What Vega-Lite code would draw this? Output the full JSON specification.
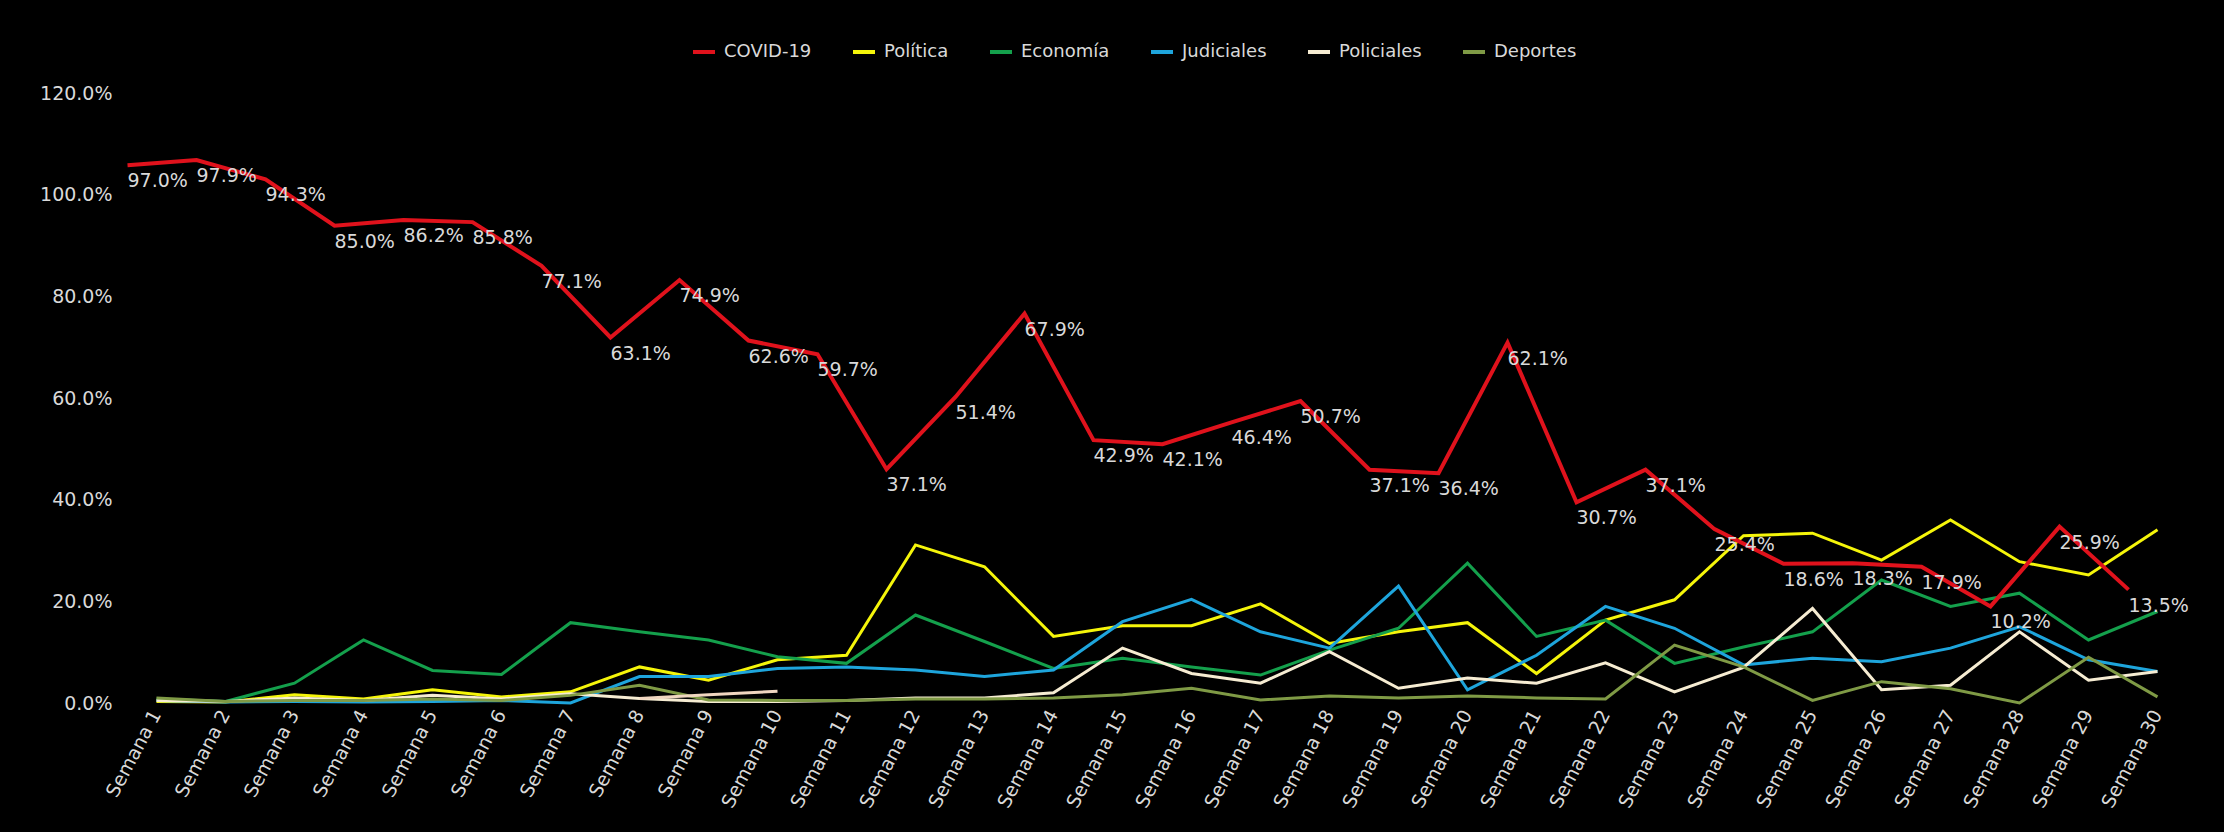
{
  "$schema": "https://vega.github.io/schema/vega-lite/v6.json",
  "width": 2070,
  "height": 610,
  "autosize": {"type": "none"},
  "padding": {"left": 122, "top": 93, "right": 32, "bottom": 129},
  "background": "#000000",
  "config": {"view": {"stroke": null}, "font": "DejaVu Sans"},
  "datasets": {
    "oth": [
      {"w": "Semana 1", "Política": 0.003, "Economía": 0.008, "Judiciales": 0.005, "Policiales": 0.005, "Deportes": 0.010},
      {"w": "Semana 2", "Política": 0.002, "Economía": 0.003, "Judiciales": 0.002, "Policiales": 0.003, "Deportes": 0.003},
      {"w": "Semana 3", "Política": 0.016, "Economía": 0.039, "Judiciales": 0.003, "Policiales": 0.010, "Deportes": 0.005},
      {"w": "Semana 4", "Política": 0.008, "Economía": 0.124, "Judiciales": 0.002, "Policiales": 0.005, "Deportes": 0.005},
      {"w": "Semana 5", "Política": 0.026, "Economía": 0.064, "Judiciales": 0.003, "Policiales": 0.015, "Deportes": 0.008},
      {"w": "Semana 6", "Política": 0.012, "Economía": 0.056, "Judiciales": 0.005, "Policiales": 0.008, "Deportes": 0.005},
      {"w": "Semana 7", "Política": 0.022, "Economía": 0.158, "Judiciales": 0.000, "Policiales": 0.018, "Deportes": 0.015},
      {"w": "Semana 8", "Política": 0.071, "Economía": 0.140, "Judiciales": 0.052, "Policiales": 0.009, "Deportes": 0.035},
      {"w": "Semana 9", "Política": 0.045, "Economía": 0.124, "Judiciales": 0.052, "Policiales": 0.003, "Deportes": 0.006},
      {"w": "Semana 10", "Política": 0.085, "Economía": 0.091, "Judiciales": 0.068, "Policiales": 0.003, "Deportes": 0.005},
      {"w": "Semana 11", "Política": 0.094, "Economía": 0.078, "Judiciales": 0.071, "Policiales": 0.005, "Deportes": 0.005},
      {"w": "Semana 12", "Política": 0.311, "Economía": 0.173, "Judiciales": 0.065, "Policiales": 0.010, "Deportes": 0.008},
      {"w": "Semana 13", "Política": 0.268, "Economía": 0.121, "Judiciales": 0.052, "Policiales": 0.010, "Deportes": 0.008},
      {"w": "Semana 14", "Política": 0.131, "Economía": 0.068, "Judiciales": 0.065, "Policiales": 0.020, "Deportes": 0.010},
      {"w": "Semana 15", "Política": 0.152, "Economía": 0.088, "Judiciales": 0.160, "Policiales": 0.108, "Deportes": 0.016},
      {"w": "Semana 16", "Política": 0.152, "Economía": 0.071, "Judiciales": 0.204, "Policiales": 0.058, "Deportes": 0.029},
      {"w": "Semana 17", "Política": 0.195, "Economía": 0.055, "Judiciales": 0.140, "Policiales": 0.039, "Deportes": 0.006},
      {"w": "Semana 18", "Política": 0.117, "Economía": 0.104, "Judiciales": 0.108, "Policiales": 0.101, "Deportes": 0.014},
      {"w": "Semana 19", "Política": 0.140, "Economía": 0.147, "Judiciales": 0.230, "Policiales": 0.029, "Deportes": 0.010},
      {"w": "Semana 20", "Política": 0.158, "Economía": 0.275, "Judiciales": 0.026, "Policiales": 0.049, "Deportes": 0.014},
      {"w": "Semana 21", "Política": 0.058, "Economía": 0.131, "Judiciales": 0.094, "Policiales": 0.039, "Deportes": 0.010},
      {"w": "Semana 22", "Política": 0.163, "Economía": 0.163, "Judiciales": 0.190, "Policiales": 0.079, "Deportes": 0.008},
      {"w": "Semana 23", "Política": 0.203, "Economía": 0.078, "Judiciales": 0.147, "Policiales": 0.022, "Deportes": 0.114},
      {"w": "Semana 24", "Política": 0.329, "Economía": 0.110, "Judiciales": 0.075, "Policiales": 0.070, "Deportes": 0.071},
      {"w": "Semana 25", "Política": 0.334, "Economía": 0.140, "Judiciales": 0.088, "Policiales": 0.186, "Deportes": 0.005},
      {"w": "Semana 26", "Política": 0.281, "Economía": 0.242, "Judiciales": 0.081, "Policiales": 0.026, "Deportes": 0.042},
      {"w": "Semana 27", "Política": 0.360, "Economía": 0.190, "Judiciales": 0.108, "Policiales": 0.035, "Deportes": 0.028},
      {"w": "Semana 28", "Política": 0.278, "Economía": 0.216, "Judiciales": 0.150, "Policiales": 0.140, "Deportes": 0.000},
      {"w": "Semana 29", "Política": 0.252, "Economía": 0.124, "Judiciales": 0.085, "Policiales": 0.045, "Deportes": 0.090},
      {"w": "Semana 30", "Política": 0.341, "Economía": 0.180, "Judiciales": 0.062, "Policiales": 0.062, "Deportes": 0.012}
    ],
    "ext": [
      {"w": "Semana 8", "v": 0.009},
      {"w": "Semana 9", "v": 0.016},
      {"w": "Semana 10", "v": 0.023}
    ],
    "cov": [
      {"w": "Semana 1", "s": "COVID-19", "v": 1.058, "lab": "97.0%"},
      {"w": "Semana 2", "s": "COVID-19", "v": 1.068, "lab": "97.9%"},
      {"w": "Semana 3", "s": "COVID-19", "v": 1.030, "lab": "94.3%"},
      {"w": "Semana 4", "s": "COVID-19", "v": 0.939, "lab": "85.0%"},
      {"w": "Semana 5", "s": "COVID-19", "v": 0.950, "lab": "86.2%"},
      {"w": "Semana 6", "s": "COVID-19", "v": 0.946, "lab": "85.8%"},
      {"w": "Semana 7", "s": "COVID-19", "v": 0.860, "lab": "77.1%"},
      {"w": "Semana 8", "s": "COVID-19", "v": 0.719, "lab": "63.1%"},
      {"w": "Semana 9", "s": "COVID-19", "v": 0.832, "lab": "74.9%"},
      {"w": "Semana 10", "s": "COVID-19", "v": 0.713, "lab": "62.6%"},
      {"w": "Semana 11", "s": "COVID-19", "v": 0.686, "lab": "59.7%"},
      {"w": "Semana 12", "s": "COVID-19", "v": 0.460, "lab": "37.1%"},
      {"w": "Semana 13", "s": "COVID-19", "v": 0.602, "lab": "51.4%"},
      {"w": "Semana 14", "s": "COVID-19", "v": 0.766, "lab": "67.9%"},
      {"w": "Semana 15", "s": "COVID-19", "v": 0.517, "lab": "42.9%"},
      {"w": "Semana 16", "s": "COVID-19", "v": 0.509, "lab": "42.1%"},
      {"w": "Semana 17", "s": "COVID-19", "v": 0.552, "lab": "46.4%"},
      {"w": "Semana 18", "s": "COVID-19", "v": 0.594, "lab": "50.7%"},
      {"w": "Semana 19", "s": "COVID-19", "v": 0.459, "lab": "37.1%"},
      {"w": "Semana 20", "s": "COVID-19", "v": 0.452, "lab": "36.4%"},
      {"w": "Semana 21", "s": "COVID-19", "v": 0.709, "lab": "62.1%"},
      {"w": "Semana 22", "s": "COVID-19", "v": 0.395, "lab": "30.7%"},
      {"w": "Semana 23", "s": "COVID-19", "v": 0.459, "lab": "37.1%"},
      {"w": "Semana 24", "s": "COVID-19", "v": 0.342, "lab": "25.4%"},
      {"w": "Semana 25", "s": "COVID-19", "v": 0.274, "lab": "18.6%"},
      {"w": "Semana 26", "s": "COVID-19", "v": 0.275, "lab": "18.3%"},
      {"w": "Semana 27", "s": "COVID-19", "v": 0.268, "lab": "17.9%"},
      {"w": "Semana 28", "s": "COVID-19", "v": 0.190, "lab": "10.2%"},
      {"w": "Semana 29", "s": "COVID-19", "v": 0.347, "lab": "25.9%"},
      {"w": "Semana 30", "s": "COVID-19", "v": 0.223, "lab": "13.5%"}
    ]
  },
  "layer": [
    {
      "data": {"name": "oth"},
      "transform": [{"fold": ["Política", "Economía", "Judiciales", "Policiales", "Deportes"], "as": ["s", "v"]}],
      "mark": {"type": "line", "strokeWidth": 3},
      "encoding": {
        "x": {
          "field": "w", "type": "ordinal", "title": null,
          "scale": {"type": "band", "paddingInner": 0, "paddingOuter": 0,
            "domain": ["Semana 1","Semana 2","Semana 3","Semana 4","Semana 5","Semana 6","Semana 7","Semana 8","Semana 9","Semana 10","Semana 11","Semana 12","Semana 13","Semana 14","Semana 15","Semana 16","Semana 17","Semana 18","Semana 19","Semana 20","Semana 21","Semana 22","Semana 23","Semana 24","Semana 25","Semana 26","Semana 27","Semana 28","Semana 29","Semana 30"]},
          "axis": {"labelAngle": -62, "labelFontSize": 19, "labelColor": "#d9d9d9", "ticks": false, "domain": false, "grid": false, "labelPadding": 8}
        },
        "y": {
          "field": "v", "type": "quantitative", "title": null,
          "scale": {"domain": [0, 1.2], "nice": false},
          "axis": {"values": [0, 0.2, 0.4, 0.6, 0.8, 1.0, 1.2], "format": ".1%", "labelFontSize": 19, "labelColor": "#d9d9d9", "ticks": false, "domain": false, "grid": false, "labelPadding": 10}
        },
        "color": {
          "field": "s", "type": "nominal",
          "scale": {"domain": ["COVID-19", "Política", "Economía", "Judiciales", "Policiales", "Deportes"],
                    "range": ["#e0121c", "#f5f50a", "#14a04c", "#1ea5dc", "#f6ecd2", "#7f9a45"]},
          "legend": {"orient": "none", "legendX": 569, "legendY": -54, "direction": "horizontal", "title": null,
                     "symbolType": "stroke", "symbolStrokeWidth": 4, "symbolSize": 484,
                     "labelFontSize": 18, "labelColor": "#d9d9d9", "labelOffset": 7, "columnPadding": 33}
        }
      }
    },
    {
      "data": {"name": "ext"},
      "mark": {"type": "line", "strokeWidth": 3, "stroke": "#f0d6c0"},
      "encoding": {
        "x": {"field": "w", "type": "ordinal"},
        "y": {"field": "v", "type": "quantitative"}
      }
    },
    {
      "data": {"name": "cov"},
      "mark": {"type": "line", "strokeWidth": 4},
      "encoding": {
        "x": {"field": "w", "type": "ordinal", "bandPosition": 0.08},
        "y": {"field": "v", "type": "quantitative"},
        "color": {"field": "s", "type": "nominal"}
      }
    },
    {
      "data": {"name": "cov"},
      "mark": {"type": "text", "align": "left", "baseline": "top", "dy": 7, "fontSize": 19, "fill": "#d9d9d9"},
      "encoding": {
        "x": {"field": "w", "type": "ordinal", "bandPosition": 0.08},
        "y": {"field": "v", "type": "quantitative"},
        "text": {"field": "lab"}
      }
    }
  ]
}
